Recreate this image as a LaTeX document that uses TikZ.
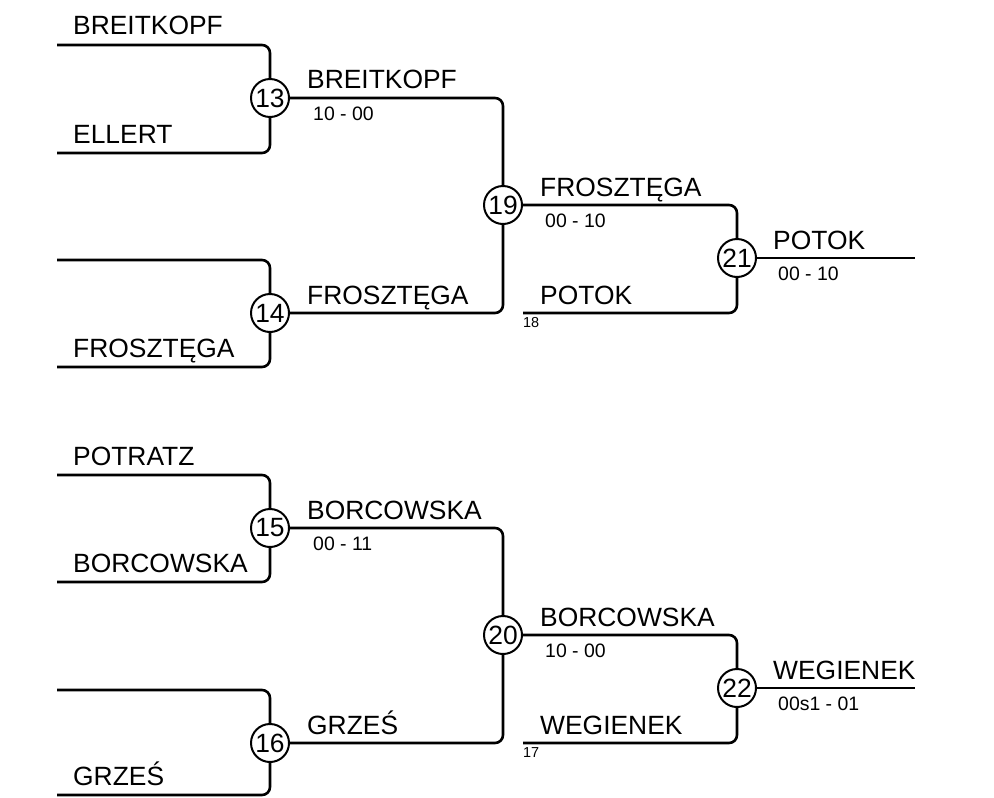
\documentclass[tikz,border=0pt]{standalone}
\usepackage{fontspec}
\setmainfont{Liberation Sans}
\usetikzlibrary{positioning}
\tikzset{
  match/.style={draw, circle, line width=2pt, minimum size=38bp, inner sep=0pt, fill=white, font=\fontsize{26.5}{30}\selectfont},
  player/.style={anchor=base west, inner sep=0pt, font=\fontsize{26.5}{30}\selectfont},
  score/.style={anchor=base west, inner sep=0pt, font=\fontsize{19.5}{22}\selectfont},
  seedno/.style={anchor=base west, inner sep=0pt, font=\fontsize{14.5}{16}\selectfont},
  wire/.style={line width=2.6bp, rounded corners=8bp},
}
\begin{document}
\begin{tikzpicture}[x=1bp, y=-1bp]
  \useasboundingbox (0,0) rectangle (994,798);
  \node[match] (m13) at (270,98) {13};
  \node[match] (m14) at (270,313) {14};
  \node[match] (m19) at (503,205) {19};
  \node[match] (m21) at (737,258) {21};
  \node[match] (m15) at (270,528) {15};
  \node[match] (m16) at (270,743) {16};
  \node[match] (m20) at (503,635) {20};
  \node[match] (m22) at (737,688) {22};
  \coordinate (in1) at (57,45);
  \coordinate (in2) at (57,153);
  \coordinate (in3) at (57,260);
  \coordinate (in4) at (57,367);
  \coordinate (in18) at (523,313);
  \coordinate (out21) at (915,258);
  \coordinate (in5) at (57,475);
  \coordinate (in6) at (57,582);
  \coordinate (in7) at (57,690);
  \coordinate (in8) at (57,795);
  \coordinate (in17) at (523,743);
  \coordinate (out22) at (915,688);
  \draw[wire] (in1) -| (m13); \draw[wire] (in2) -| (m13);
  \draw[wire] (in3) -| (m14); \draw[wire] (in4) -| (m14);
  \draw[wire] (m13) -| (m19); \draw[wire] (m14) -| (m19);
  \draw[wire] (m19) -| (m21); \draw[wire] (in18) -| (m21);
  \draw[wire] (m21) -- (out21);
  \draw[wire] (in5) -| (m15); \draw[wire] (in6) -| (m15);
  \draw[wire] (in7) -| (m16); \draw[wire] (in8) -| (m16);
  \draw[wire] (m15) -| (m20); \draw[wire] (m16) -| (m20);
  \draw[wire] (m20) -| (m22); \draw[wire] (in17) -| (m22);
  \draw[wire] (m22) -- (out22);
  \node[player] (p1) at (73,35) {BREITKOPF};
  \node[player] (p2) at (73,143) {ELLERT};
  \node[player] (p4) at (73,357) {FROSZTĘGA};
  \node[player] (w13) at (307,89) {BREITKOPF};
  \node[score] (s13) at (313,120) {10 - 00};
  \node[player] (w14) at (307,304) {FROSZTĘGA};
  \node[player] (w19) at (540,196) {FROSZTĘGA};
  \node[score] (s19) at (545,227) {00 - 10};
  \node[player] (p18) at (540,304) {POTOK};
  \node[seedno] (n18) at (523,327) {18};
  \node[player] (w21) at (773,249) {POTOK};
  \node[score] (s21) at (778,280) {00 - 10};
  \node[player] (p5) at (73,465) {POTRATZ};
  \node[player] (p6) at (73,572) {BORCOWSKA};
  \node[player] (p8) at (73,785) {GRZEŚ};
  \node[player] (w15) at (307,519) {BORCOWSKA};
  \node[score] (s15) at (313,550) {00 - 11};
  \node[player] (w16) at (307,734) {GRZEŚ};
  \node[player] (w20) at (540,626) {BORCOWSKA};
  \node[score] (s20) at (545,657) {10 - 00};
  \node[player] (p17) at (540,734) {WEGIENEK};
  \node[seedno] (n17) at (523,757) {17};
  \node[player] (w22) at (773,679) {WEGIENEK};
  \node[score] (s22) at (778,710) {00s1 - 01};
\end{tikzpicture}
\end{document}
